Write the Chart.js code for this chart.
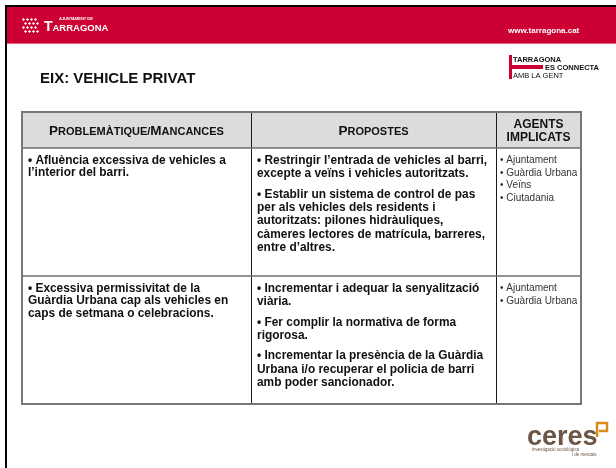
<!DOCTYPE html>
<html><head><meta charset="utf-8">
<script src="https://cdn.jsdelivr.net/npm/chart.js@4.4.1/dist/chart.umd.min.js"></script>
<style>html,body{margin:0;padding:0;background:#fff;overflow:hidden}canvas{display:block}</style>
</head><body><canvas id="c" width="616" height="468"></canvas>
<script>
// ---- content (data) ----
const slideTitle = "EIX: VEHICLE PRIVAT";
const siteUrl = "www.tarragona.cat";
const columnHeaders = [["Problemàtique/Mancances"], ["Propostes"], ["AGENTS", "IMPLICATS"]];
const problems = [
  [["• Afluència excessiva de vehicles a", "l’interior del barri."]],
  [["• Excessiva permissivitat de la", "Guàrdia Urbana cap als vehicles en", "caps de setmana o celebracions."]]
];
const proposals = [
  [["• Restringir l’entrada de vehicles al barri,", "excepte a veïns i vehicles autoritzats."],
   ["• Establir un sistema de control de pas", "per als vehicles dels residents i", "autoritzats: pilones hidràuliques,", "càmeres lectores de matrícula, barreres,", "entre d’altres."]],
  [["• Incrementar i adequar la senyalització", "viària."],
   ["• Fer complir la normativa de forma", "rigorosa."],
   ["• Incrementar la presència de la Guàrdia", "Urbana i/o recuperar el policia de barri", "amb poder sancionador."]]
];
const agents = [
  ["• Ajuntament", "• Guàrdia Urbana", "• Veïns", "• Ciutadania"],
  ["• Ajuntament", "• Guàrdia Urbana"]
];
const rowLabels = ["Fila 1", "Fila 2"];

const FONT = '"Liberation Sans", Arial, Helvetica, sans-serif';

function smallCaps(ctx, text, x, y, big, small, align) {
  const parts = [];
  for (const ch of text) {
    const isBig = ch !== ch.toLowerCase();
    parts.push({ t: ch.toUpperCase(), f: 'bold ' + (isBig ? big : small) + 'px ' + FONT });
  }
  let w = 0;
  for (const p of parts) { ctx.font = p.f; p.w = ctx.measureText(p.t).width; w += p.w; }
  let cx = align === 'center' ? x - w / 2 : x;
  ctx.textAlign = 'left';
  for (const p of parts) { ctx.font = p.f; ctx.fillText(p.t, cx, y); cx += p.w; }
}

const slidePlugin = {
  id: 'slide',
  beforeDraw(chart) {
    const ctx = chart.ctx;
    ctx.save();
    ctx.fillStyle = '#ffffff';
    ctx.fillRect(0, 0, chart.width, chart.height);
    // frame
    ctx.fillStyle = '#000';
    ctx.fillRect(5, 5, chart.width - 5, 2);
    ctx.fillRect(5, 5, 2, chart.height - 5);
    // red band
    ctx.fillStyle = '#cc0033';
    ctx.fillRect(7, 7, chart.width - 7, 36);
    ctx.fillStyle = '#e46a88';
    ctx.fillRect(7, 43, chart.width - 7, 1);
    // emblem
    ctx.fillStyle = '#ffffff';
    for (let r = 0; r < 4; r++) {
      for (let c = 0; c < 4; c++) {
        const ex = 22 + c * 4 + (r % 2) * 2, ey = 18 + r * 4;
        ctx.beginPath();
        ctx.moveTo(ex + 1.5, ey); ctx.lineTo(ex + 3, ey + 1.5); ctx.lineTo(ex + 1.5, ey + 3); ctx.lineTo(ex, ey + 1.5);
        ctx.closePath(); ctx.fill();
      }
    }
    ctx.textBaseline = 'alphabetic';
    ctx.font = 'bold 4px ' + FONT;
    ctx.fillText('AJUNTAMENT DE', 59, 19.5);
    ctx.font = 'bold 14px ' + FONT;
    ctx.fillText('T', 44, 31);
    ctx.font = 'bold 9.5px ' + FONT;
    ctx.fillText('ARRAGONA', 52.5, 31);
    ctx.font = 'bold 8px ' + FONT;
    ctx.fillText(siteUrl, 508, 33);
    // title
    ctx.fillStyle = '#111';
    ctx.font = 'bold 15px ' + FONT;
    ctx.fillText(slideTitle, 40, 83);
    // Tarragona es connecta logo
    ctx.fillStyle = '#cc0033';
    ctx.fillRect(509, 55, 3, 24);
    ctx.fillRect(512, 65, 31, 4);
    ctx.fillStyle = '#111';
    ctx.font = 'bold 7.5px ' + FONT;
    ctx.fillText('TARRAGONA', 513, 62);
    ctx.fillText('ES CONNECTA', 545, 69.5);
    ctx.font = '7.5px ' + FONT;
    ctx.fillText('AMB LA GENT', 513, 77.5);
    // ceres logo
    ctx.fillStyle = '#6a5546';
    ctx.font = 'bold 27px ' + FONT;
    ctx.fillText('ceres', 527, 445);
    ctx.font = '4.5px ' + FONT;
    ctx.fillText('investigació sociològica', 532, 451);
    ctx.fillText('i de mercats', 572, 456);
    ctx.strokeStyle = '#d98a1a';
    ctx.lineWidth = 2.5;
    ctx.beginPath();
    ctx.moveTo(597, 437); ctx.lineTo(597, 423); ctx.lineTo(607, 423); ctx.lineTo(607, 431); ctx.lineTo(599, 431);
    ctx.stroke();
    ctx.restore();
  },
  afterDraw(chart, args, opts) {
    const ctx = chart.ctx, a = chart.chartArea;
    const W = a.right - a.left, H = a.bottom - a.top;
    const xs = [a.left, a.left + W * opts.colSplit[0], a.left + W * opts.colSplit[1], a.right];
    const ys = [a.top, a.top + H * opts.rowSplit[0], a.top + H * opts.rowSplit[1], a.bottom];
    ctx.save();
    // header fill
    ctx.fillStyle = '#dcdcdc';
    ctx.fillRect(a.left, a.top, W, ys[1] - a.top);
    // inner vertical lines
    ctx.strokeStyle = '#1a1a1a';
    ctx.lineWidth = 1;
    for (const x of [xs[1], xs[2]]) {
      ctx.beginPath(); ctx.moveTo(Math.round(x) + 0.5, a.top); ctx.lineTo(Math.round(x) + 0.5, a.bottom); ctx.stroke();
    }
    // inner horizontal lines
    ctx.strokeStyle = '#6e6e6e';
    ctx.lineWidth = 1.5;
    for (const y of [ys[1], ys[2]]) {
      ctx.beginPath(); ctx.moveTo(a.left, y); ctx.lineTo(a.right, y); ctx.stroke();
    }
    // outer border
    ctx.strokeStyle = '#777';
    ctx.lineWidth = 2;
    ctx.strokeRect(a.left, a.top, W, H);

    // headers
    ctx.fillStyle = '#111';
    ctx.textBaseline = 'alphabetic';
    smallCaps(ctx, columnHeaders[0][0], (xs[0] + xs[1]) / 2, a.top + 23, 13.5, 11, 'center');
    smallCaps(ctx, columnHeaders[1][0], (xs[1] + xs[2]) / 2, a.top + 23, 13.5, 11, 'center');
    ctx.font = 'bold 12px ' + FONT;
    ctx.textAlign = 'center';
    columnHeaders[2].forEach((t, i) => ctx.fillText(t, (xs[2] + xs[3]) / 2, a.top + 16 + i * 12.5));

    // body
    ctx.textAlign = 'left';
    for (let r = 0; r < rowLabels.length; r++) {
      const top = ys[r + 1];
      // col 1
      ctx.font = 'bold 11.9px ' + FONT;
      ctx.fillStyle = '#111';
      let y = top + 15.5;
      problems[r].forEach(par => { par.forEach(line => { ctx.fillText(line, xs[0] + 6, y); y += 12.5; }); y += 7; });
      // col 2
      y = top + 16;
      proposals[r].forEach(par => { par.forEach(line => { ctx.fillText(line, xs[1] + 6, y); y += 13.3; }); y += 7; });
      // col 3
      ctx.font = '10px ' + FONT;
      ctx.fillStyle = '#333';
      y = top + 15;
      agents[r].forEach(line => { ctx.fillText(line, xs[2] + 4, y); y += 12.7; });
    }
    ctx.restore();
  }
};

new Chart(document.getElementById('c'), {
  type: 'bar',
  data: { labels: rowLabels, datasets: [] },
  options: {
    responsive: false,
    animation: false,
    devicePixelRatio: 1,
    layout: { padding: { left: 22, top: 112, right: 35, bottom: 64 } },
    scales: { x: { display: false }, y: { display: false } },
    plugins: {
      legend: { display: false },
      tooltip: { enabled: false },
      slide: { colSplit: [229 / 559, 474 / 559], rowSplit: [36 / 292, 164 / 292] }
    }
  },
  plugins: [slidePlugin]
});
</script>
</body></html>
